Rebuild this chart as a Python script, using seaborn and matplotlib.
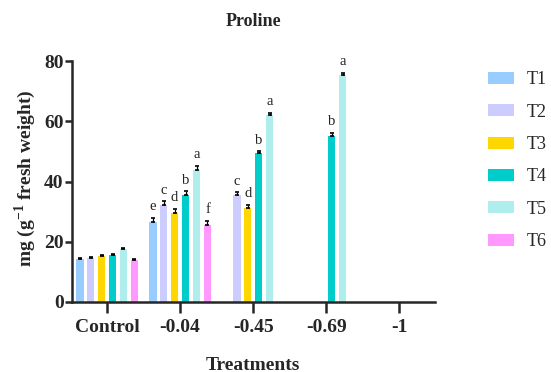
import numpy as np
import pandas as pd
import matplotlib
matplotlib.use("Agg")
import matplotlib.pyplot as plt
from matplotlib.container import BarContainer
import seaborn as sns

categories = ["Control", "-0.04", "-0.45", "-0.69", "-1"]
treatments = ["T1", "T2", "T3", "T4", "T5", "T6"]
colors = ["#99CCFF", "#CCCCFF", "#FFD700", "#00CCCC", "#B0EEEE", "#FF99FF"]

# values per treatment across categories (0 = not measured)
T1 = [14.4, 26.7, 0, 0, 0]
T2 = [14.7, 32.2, 35.6, 0, 0]
T3 = [15.3, 29.6, 31.3, 0, 0]
T4 = [15.6, 35.5, 49.3, 55.2, 0]
T5 = [17.6, 43.9, 62.1, 75.3, 0]
T6 = [14.0, 25.7, 0, 0, 0]

E1 = [0.3, 1.1, 0, 0, 0]
E2 = [0.3, 1.2, 0.8, 0, 0]
E3 = [0.3, 1.2, 0.8, 0, 0]
E4 = [0.3, 1.2, 0.7, 0.9, 0]
E5 = [0.3, 1.2, 0.8, 0.8, 0]
E6 = [0.3, 1.2, 0, 0, 0]

L1 = ["", "e", "", "", ""]
L2 = ["", "c", "c", "", ""]
L3 = ["", "d", "d", "", ""]
L4 = ["", "b", "b", "b", ""]
L5 = ["", "a", "a", "a", ""]
L6 = ["", "f", "", "", ""]

values = [T1, T2, T3, T4, T5, T6]
errors = [E1, E2, E3, E4, E5, E6]
letters = [L1, L2, L3, L4, L5, L6]

rows = []
for t, vals in zip(treatments, values):
    for c, v in zip(categories, vals):
        rows.append({"Treatments": c, "Treatment": t, "value": v})
df = pd.DataFrame(rows)

sns.set_style("ticks")
plt.rcParams["font.family"] = ["Liberation Serif", "DejaVu Serif"]
plt.rcParams["mathtext.fontset"] = "custom"
plt.rcParams["mathtext.rm"] = "Liberation Serif"
plt.rcParams["mathtext.bf"] = "Liberation Serif:bold"

fig = plt.figure(figsize=(5.51, 3.72), dpi=100)
ax = fig.add_axes([72 / 551, 1 - 302 / 372, (435 - 72) / 551, (302 - 61) / 372])

sns.barplot(data=df, x="Treatments", y="value", hue="Treatment",
            order=categories, hue_order=treatments, palette=colors,
            saturation=1, width=0.9, gap=0.3, errorbar=None, linewidth=0,
            ax=ax, legend=True)

bar_containers = [c for c in ax.containers if isinstance(c, BarContainer)]
for ci, cont in enumerate(bar_containers):
    for bi, bar in enumerate(cont):
        v = values[ci][bi]
        if v <= 0:
            continue
        xc = bar.get_x() + bar.get_width() / 2
        e = errors[ci][bi]
        ax.errorbar(xc, v, yerr=[[0], [e]], fmt="none", ecolor="black",
                    elinewidth=0.9, capsize=1.3, capthick=1.2)
        if letters[ci][bi]:
            ax.text(xc, v + e + 1.6, letters[ci][bi], ha="center", va="bottom",
                    fontsize=10.5, color="#222222")

ax.set_ylim(0, 80)
ax.set_xlim(-0.48, 4.49)
ax.set_yticks([0, 20, 40, 60, 80])
for s in ["top", "right"]:
    ax.spines[s].set_visible(False)
for s in ["left", "bottom"]:
    ax.spines[s].set_linewidth(1.8)
ax.tick_params(axis="y", length=5, width=1.8, labelsize=14, pad=1)
ax.tick_params(axis="x", length=8, width=1.8, labelsize=14, pad=4)
for lab in ax.get_xticklabels() + ax.get_yticklabels():
    lab.set_fontweight("bold")

ax.set_xlabel("")
ax.set_ylabel("")
fig.text(253 / 551, 1 - 365 / 372, "Treatments", ha="center", va="center",
         fontsize=14, fontweight="bold")
fig.text(25 / 551, 1 - 178 / 372, r"mg (g$^{\mathbf{-1}}$ fresh weight)", ha="center",
         va="center", rotation=90, fontsize=14, fontweight="bold")
fig.text(253 / 551, 1 - 22 / 372, "Proline", ha="center", va="center",
         fontsize=13, fontweight="bold")

handles, labels = ax.get_legend_handles_labels()
ax.legend_.remove()
fig.legend(handles, labels, loc="upper left", bbox_to_anchor=(481 / 551, 1 - 64 / 372),
           frameon=False, fontsize=13, handlelength=1.45, handleheight=0.65,
           labelspacing=0.85, handletextpad=0.7, borderaxespad=0)

fig.savefig("out.png", dpi=100)
